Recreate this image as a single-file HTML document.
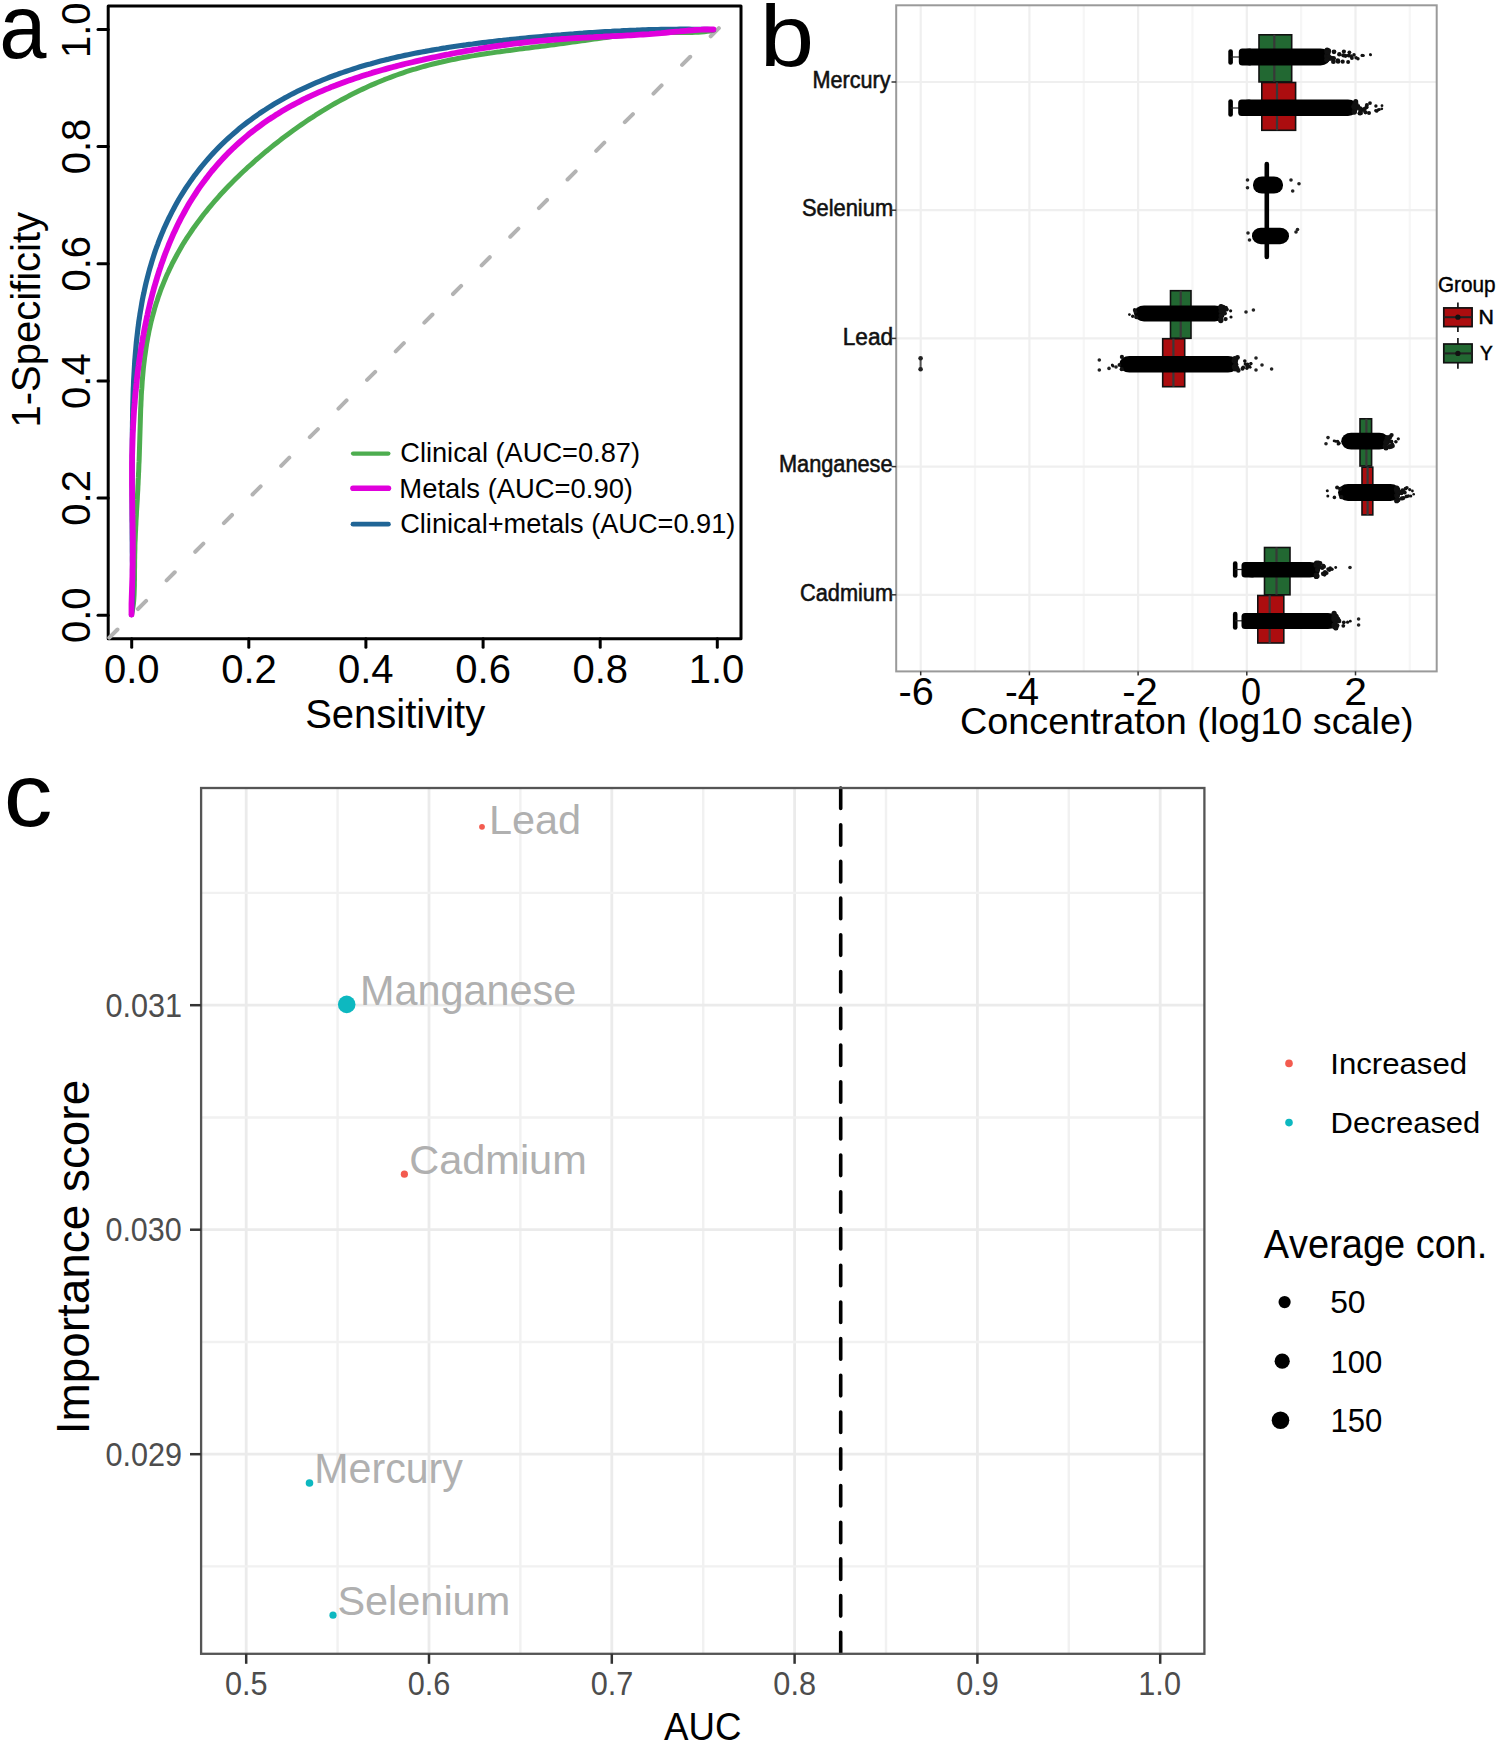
<!DOCTYPE html>
<html><head><meta charset="utf-8"><style>
html,body{margin:0;padding:0;background:#fff;}
svg{display:block;}
text{font-family:"Liberation Sans", sans-serif;font-kerning:none;}
</style></head><body>
<svg width="1499" height="1745" viewBox="0 0 1499 1745">
<rect width="1499" height="1745" fill="#fff"/>
<text transform="translate(-0.81 57.60) scale(0.9436 1)" font-size="89.95" fill="#000" >a</text>
<rect x="108.2" y="6" width="632.8" height="632.8" fill="none" stroke="#000" stroke-width="3" stroke-linejoin="round"/>
<line x1="131.7" y1="638.8" x2="131.7" y2="647.3" stroke="#000" stroke-width="3" stroke-linecap="round"/>
<line x1="98" y1="615.2" x2="108.2" y2="615.2" stroke="#000" stroke-width="3" stroke-linecap="round"/>
<text transform="translate(103.90 682.60) scale(1.0000 1)" font-size="40.00" fill="#000">0.0</text>
<text transform="translate(89.80 643.00) rotate(-90) scale(1.0000 1)" font-size="40.00" fill="#000">0.0</text>
<line x1="248.8" y1="638.8" x2="248.8" y2="647.3" stroke="#000" stroke-width="3" stroke-linecap="round"/>
<line x1="98" y1="498.1" x2="108.2" y2="498.1" stroke="#000" stroke-width="3" stroke-linecap="round"/>
<text transform="translate(221.24 682.60) scale(1.0000 1)" font-size="40.00" fill="#000">0.2</text>
<text transform="translate(89.80 525.64) rotate(-90) scale(1.0000 1)" font-size="40.00" fill="#000">0.2</text>
<line x1="365.9" y1="638.8" x2="365.9" y2="647.3" stroke="#000" stroke-width="3" stroke-linecap="round"/>
<line x1="98" y1="380.9" x2="108.2" y2="380.9" stroke="#000" stroke-width="3" stroke-linecap="round"/>
<text transform="translate(337.94 682.60) scale(1.0000 1)" font-size="40.00" fill="#000">0.4</text>
<text transform="translate(89.80 408.92) rotate(-90) scale(1.0000 1)" font-size="40.00" fill="#000">0.4</text>
<line x1="483.1" y1="638.8" x2="483.1" y2="647.3" stroke="#000" stroke-width="3" stroke-linecap="round"/>
<line x1="98" y1="263.8" x2="108.2" y2="263.8" stroke="#000" stroke-width="3" stroke-linecap="round"/>
<text transform="translate(455.35 682.60) scale(1.0000 1)" font-size="40.00" fill="#000">0.6</text>
<text transform="translate(89.80 291.49) rotate(-90) scale(1.0000 1)" font-size="40.00" fill="#000">0.6</text>
<line x1="600.2" y1="638.8" x2="600.2" y2="647.3" stroke="#000" stroke-width="3" stroke-linecap="round"/>
<line x1="98" y1="146.6" x2="108.2" y2="146.6" stroke="#000" stroke-width="3" stroke-linecap="round"/>
<text transform="translate(572.47 682.60) scale(1.0000 1)" font-size="40.00" fill="#000">0.8</text>
<text transform="translate(89.80 174.35) rotate(-90) scale(1.0000 1)" font-size="40.00" fill="#000">0.8</text>
<line x1="717.3" y1="638.8" x2="717.3" y2="647.3" stroke="#000" stroke-width="3" stroke-linecap="round"/>
<line x1="98" y1="29.5" x2="108.2" y2="29.5" stroke="#000" stroke-width="3" stroke-linecap="round"/>
<text transform="translate(688.76 682.60) scale(1.0000 1)" font-size="40.00" fill="#000">1.0</text>
<text transform="translate(89.80 58.04) rotate(-90) scale(1.0000 1)" font-size="40.00" fill="#000">1.0</text>
<text transform="translate(305.15 728.00) scale(1.0000 1)" font-size="40.00" fill="#000">Sensitivity</text>
<text transform="translate(39.50 427.55) rotate(-90) scale(1.0000 1)" font-size="40.00" fill="#000">1-Specificity</text>
<line x1="108.2" y1="638.8" x2="722.5" y2="24.5" stroke="#B3B3B3" stroke-width="4" stroke-dasharray="11.5 29" stroke-linecap="round" stroke-dashoffset="-1.6"/>
<path d="M713.4,30.3 L710.4,30.9 L707.3,31.3 L704.3,31.7 L701.2,32.0 L698.2,32.2 L695.1,32.3 L692.1,32.4 L689.0,32.5 L685.9,32.5 L682.9,32.5 L679.8,32.5 L676.8,32.6 L673.7,32.6 L670.6,32.6 L667.5,32.6 L664.5,32.7 L661.4,32.8 L658.3,32.8 L655.3,33.0 L652.2,33.1 L649.1,33.2 L646.0,33.4 L643.0,33.6 L639.9,33.8 L636.8,34.1 L633.8,34.3 L630.7,34.6 L627.6,34.9 L624.6,35.2 L621.5,35.6 L618.5,35.9 L615.4,36.3 L612.3,36.6 L609.3,37.0 L606.2,37.4 L603.2,37.8 L600.1,38.3 L597.0,38.7 L594.0,39.1 L590.9,39.5 L587.8,40.0 L584.8,40.4 L581.7,40.8 L578.6,41.3 L575.5,41.7 L572.5,42.1 L569.4,42.5 L566.3,43.0 L563.2,43.4 L560.1,43.8 L557.0,44.2 L553.9,44.7 L550.7,45.1 L547.6,45.5 L544.5,45.9 L541.4,46.3 L538.2,46.7 L535.1,47.1 L531.9,47.5 L528.8,47.9 L525.6,48.3 L522.4,48.7 L519.2,49.1 L516.0,49.6 L512.9,50.0 L509.7,50.4 L506.4,50.8 L503.2,51.2 L500.0,51.7 L496.8,52.1 L493.6,52.6 L490.3,53.1 L487.1,53.5 L483.9,54.0 L480.6,54.5 L477.4,55.0 L474.1,55.6 L470.9,56.1 L467.6,56.7 L464.4,57.3 L461.1,57.9 L457.9,58.5 L454.6,59.2 L451.4,59.8 L448.1,60.5 L444.9,61.2 L441.6,62.0 L438.4,62.7 L435.2,63.5 L431.9,64.3 L428.7,65.1 L425.5,66.0 L422.2,66.9 L419.0,67.8 L415.8,68.8 L412.6,69.7 L409.4,70.7 L406.2,71.7 L403.1,72.8 L399.9,73.9 L396.7,75.0 L393.6,76.1 L390.4,77.3 L387.3,78.5 L384.2,79.7 L381.1,81.0 L378.0,82.3 L374.9,83.6 L371.8,84.9 L368.7,86.3 L365.7,87.7 L362.6,89.1 L359.6,90.5 L356.6,92.0 L353.5,93.5 L350.5,95.0 L347.6,96.6 L344.6,98.2 L341.6,99.8 L338.7,101.4 L335.7,103.0 L332.8,104.7 L329.9,106.4 L327.0,108.1 L324.1,109.9 L321.2,111.6 L318.4,113.4 L315.5,115.2 L312.7,117.1 L309.8,118.9 L307.0,120.8 L304.2,122.7 L301.4,124.6 L298.7,126.5 L295.9,128.5 L293.1,130.5 L290.4,132.5 L287.7,134.5 L284.9,136.5 L282.2,138.5 L279.6,140.6 L276.9,142.7 L274.2,144.8 L271.6,146.9 L268.9,149.1 L266.3,151.2 L263.7,153.4 L261.1,155.6 L258.5,157.8 L255.9,160.0 L253.4,162.3 L250.9,164.6 L248.3,166.8 L245.8,169.2 L243.3,171.5 L240.9,173.8 L238.4,176.2 L236.0,178.6 L233.5,181.0 L231.1,183.4 L228.8,185.8 L226.4,188.3 L224.1,190.8 L221.7,193.3 L219.4,195.8 L217.2,198.3 L214.9,200.9 L212.7,203.5 L210.5,206.1 L208.3,208.7 L206.2,211.4 L204.0,214.0 L201.9,216.7 L199.9,219.4 L197.8,222.2 L195.8,224.9 L193.8,227.7 L191.9,230.5 L190.0,233.3 L188.1,236.2 L186.2,239.0 L184.4,241.9 L182.6,244.8 L180.9,247.8 L179.2,250.7 L177.5,253.7 L175.9,256.7 L174.3,259.7 L172.7,262.7 L171.2,265.8 L169.7,268.9 L168.3,272.0 L166.8,275.1 L165.5,278.2 L164.2,281.4 L162.9,284.6 L161.6,287.7 L160.4,291.0 L159.3,294.2 L158.1,297.4 L157.1,300.7 L156.0,303.9 L155.0,307.2 L154.1,310.5 L153.2,313.8 L152.3,317.2 L151.4,320.5 L150.6,323.8 L149.9,327.2 L149.1,330.6 L148.5,333.9 L147.8,337.3 L147.2,340.7 L146.6,344.1 L146.1,347.5 L145.6,350.9 L145.1,354.3 L144.6,357.7 L144.2,361.1 L143.8,364.5 L143.4,367.9 L143.1,371.3 L142.8,374.8 L142.5,378.2 L142.2,381.6 L142.0,385.0 L141.8,388.4 L141.5,391.8 L141.3,395.1 L141.2,398.5 L141.0,401.9 L140.9,405.3 L140.7,408.6 L140.6,412.0 L140.5,415.3 L140.4,418.7 L140.3,422.0 L140.2,425.3 L140.1,428.6 L140.0,431.9 L139.9,435.2 L139.8,438.5 L139.7,441.8 L139.6,445.1 L139.5,448.3 L139.4,451.5 L139.3,454.8 L139.2,458.0 L139.1,461.2 L138.9,464.4 L138.8,467.6 L138.7,470.8 L138.5,474.0 L138.4,477.2 L138.2,480.3 L138.1,483.5 L137.9,486.6 L137.8,489.8 L137.6,492.9 L137.4,496.1 L137.3,499.2 L137.1,502.3 L136.9,505.4 L136.7,508.5 L136.5,511.6 L136.4,514.7 L136.2,517.8 L136.0,520.9 L135.9,524.0 L135.7,527.1 L135.6,530.2 L135.4,533.3 L135.3,536.4 L135.2,539.5 L135.0,542.6 L134.9,545.7 L134.9,548.7 L134.8,551.8 L134.7,554.9 L134.7,558.0 L134.6,561.0 L134.6,564.1 L134.6,567.2 L134.5,570.3 L134.5,573.3 L134.5,576.4 L134.5,579.5 L134.4,582.5 L134.4,585.6 L134.3,588.6 L134.2,591.7 L134.1,594.7 L133.9,597.8 L133.7,600.8 L133.4,603.9 L133.0,606.9 L132.5,610.0 L131.8,613.1 L131.5,614.6" fill="none" stroke="#4DAD4F" stroke-width="5.0" stroke-linejoin="round" stroke-linecap="round"/>
<path d="M713.4,29.5 L710.4,29.5 L707.3,29.4 L704.2,29.4 L701.1,29.3 L698.1,29.3 L695.0,29.3 L691.9,29.3 L688.8,29.2 L685.8,29.2 L682.7,29.2 L679.6,29.2 L676.5,29.3 L673.4,29.3 L670.4,29.3 L667.3,29.3 L664.2,29.4 L661.1,29.4 L658.0,29.5 L654.9,29.6 L651.8,29.7 L648.7,29.7 L645.6,29.8 L642.5,29.9 L639.4,30.0 L636.3,30.2 L633.2,30.3 L630.1,30.4 L627.0,30.6 L623.9,30.7 L620.7,30.9 L617.6,31.0 L614.5,31.2 L611.4,31.4 L608.3,31.5 L605.1,31.7 L602.0,31.9 L598.8,32.1 L595.7,32.3 L592.6,32.5 L589.4,32.7 L586.3,32.9 L583.1,33.2 L579.9,33.4 L576.8,33.6 L573.6,33.9 L570.4,34.1 L567.3,34.3 L564.1,34.6 L560.9,34.9 L557.7,35.1 L554.5,35.4 L551.3,35.7 L548.1,35.9 L544.9,36.2 L541.7,36.5 L538.4,36.8 L535.2,37.1 L532.0,37.4 L528.7,37.7 L525.5,38.0 L522.2,38.3 L519.0,38.7 L515.7,39.0 L512.4,39.3 L509.1,39.7 L505.9,40.0 L502.6,40.4 L499.3,40.7 L496.0,41.1 L492.6,41.5 L489.3,41.9 L486.0,42.3 L482.7,42.7 L479.3,43.1 L476.0,43.5 L472.7,44.0 L469.3,44.4 L465.9,44.9 L462.6,45.3 L459.2,45.8 L455.8,46.3 L452.4,46.8 L449.1,47.3 L445.7,47.9 L442.3,48.4 L438.9,49.0 L435.5,49.5 L432.1,50.1 L428.6,50.7 L425.2,51.4 L421.8,52.0 L418.4,52.6 L414.9,53.3 L411.5,54.0 L408.1,54.7 L404.7,55.4 L401.2,56.2 L397.8,56.9 L394.3,57.7 L390.9,58.5 L387.5,59.4 L384.0,60.2 L380.6,61.1 L377.2,62.0 L373.7,62.9 L370.3,63.9 L366.9,64.8 L363.5,65.8 L360.0,66.8 L356.6,67.9 L353.2,69.0 L349.8,70.1 L346.4,71.2 L343.0,72.4 L339.6,73.5 L336.3,74.8 L332.9,76.0 L329.5,77.3 L326.2,78.6 L322.9,79.9 L319.5,81.3 L316.2,82.7 L312.9,84.1 L309.6,85.6 L306.4,87.1 L303.1,88.6 L299.9,90.1 L296.6,91.7 L293.4,93.4 L290.2,95.0 L287.1,96.7 L283.9,98.4 L280.8,100.2 L277.7,102.0 L274.6,103.8 L271.5,105.7 L268.4,107.6 L265.4,109.6 L262.4,111.5 L259.4,113.5 L256.5,115.6 L253.6,117.7 L250.7,119.8 L247.8,121.9 L244.9,124.1 L242.1,126.3 L239.3,128.6 L236.6,130.9 L233.9,133.2 L231.2,135.6 L228.5,138.0 L225.9,140.4 L223.3,142.9 L220.7,145.4 L218.2,147.9 L215.7,150.5 L213.2,153.1 L210.8,155.7 L208.4,158.4 L206.1,161.1 L203.8,163.9 L201.5,166.6 L199.3,169.4 L197.1,172.3 L194.9,175.1 L192.8,178.0 L190.7,180.9 L188.7,183.9 L186.7,186.8 L184.7,189.8 L182.8,192.9 L180.9,195.9 L179.0,199.0 L177.3,202.1 L175.5,205.3 L173.8,208.4 L172.1,211.6 L170.5,214.8 L168.9,218.0 L167.3,221.3 L165.8,224.6 L164.3,227.8 L162.9,231.2 L161.5,234.5 L160.2,237.8 L158.8,241.2 L157.6,244.6 L156.3,248.0 L155.1,251.4 L154.0,254.8 L152.9,258.2 L151.8,261.7 L150.8,265.2 L149.8,268.6 L148.8,272.1 L147.9,275.6 L147.0,279.1 L146.1,282.6 L145.3,286.1 L144.5,289.7 L143.8,293.2 L143.0,296.7 L142.3,300.3 L141.7,303.8 L141.1,307.4 L140.5,310.9 L139.9,314.5 L139.4,318.0 L138.8,321.6 L138.4,325.2 L137.9,328.7 L137.5,332.3 L137.1,335.8 L136.7,339.4 L136.3,342.9 L136.0,346.5 L135.7,350.0 L135.4,353.5 L135.1,357.1 L134.8,360.6 L134.6,364.1 L134.4,367.6 L134.2,371.1 L134.0,374.6 L133.8,378.1 L133.6,381.6 L133.5,385.1 L133.3,388.6 L133.2,392.0 L133.1,395.5 L133.0,398.9 L132.9,402.4 L132.8,405.8 L132.7,409.2 L132.7,412.6 L132.6,416.0 L132.6,419.4 L132.5,422.8 L132.5,426.2 L132.4,429.6 L132.4,432.9 L132.4,436.3 L132.3,439.6 L132.3,442.9 L132.3,446.2 L132.3,449.5 L132.3,452.8 L132.2,456.1 L132.2,459.4 L132.2,462.7 L132.2,465.9 L132.2,469.2 L132.2,472.5 L132.2,475.7 L132.2,478.9 L132.1,482.1 L132.1,485.4 L132.1,488.6 L132.1,491.8 L132.1,495.0 L132.1,498.2 L132.1,501.3 L132.1,504.5 L132.1,507.7 L132.1,510.9 L132.1,514.0 L132.1,517.2 L132.1,520.3 L132.2,523.5 L132.2,526.6 L132.2,529.7 L132.2,532.9 L132.2,536.0 L132.2,539.1 L132.3,542.2 L132.3,545.3 L132.3,548.4 L132.3,551.6 L132.4,554.7 L132.4,557.7 L132.4,560.8 L132.5,563.9 L132.5,567.0 L132.5,570.1 L132.5,573.2 L132.6,576.3 L132.6,579.3 L132.6,582.4 L132.6,585.5 L132.5,588.5 L132.5,591.6 L132.5,594.7 L132.4,597.7 L132.3,600.8 L132.2,603.9 L132.0,606.9 L131.8,610.0 L131.6,613.1 L131.5,614.6" fill="none" stroke="#206596" stroke-width="5.2" stroke-linejoin="round" stroke-linecap="round"/>
<path d="M713.4,29.5 L710.4,29.4 L707.3,29.5 L704.2,29.5 L701.2,29.7 L698.1,29.8 L695.0,30.0 L692.0,30.3 L688.9,30.5 L685.9,30.8 L682.8,31.1 L679.7,31.4 L676.7,31.6 L673.6,31.9 L670.6,32.2 L667.5,32.5 L664.5,32.8 L661.4,33.1 L658.4,33.3 L655.3,33.6 L652.3,33.8 L649.2,34.1 L646.2,34.3 L643.1,34.5 L640.0,34.7 L637.0,34.9 L633.9,35.1 L630.8,35.3 L627.7,35.4 L624.6,35.6 L621.6,35.8 L618.5,35.9 L615.4,36.1 L612.3,36.2 L609.2,36.4 L606.0,36.5 L602.9,36.7 L599.8,36.8 L596.7,37.0 L593.5,37.2 L590.4,37.3 L587.3,37.5 L584.1,37.6 L581.0,37.8 L577.8,38.0 L574.7,38.2 L571.5,38.4 L568.3,38.6 L565.2,38.8 L562.0,39.0 L558.8,39.3 L555.6,39.5 L552.5,39.8 L549.3,40.0 L546.1,40.3 L542.9,40.6 L539.7,40.9 L536.5,41.2 L533.3,41.5 L530.1,41.9 L526.9,42.2 L523.6,42.6 L520.4,43.0 L517.2,43.3 L514.0,43.7 L510.8,44.2 L507.5,44.6 L504.3,45.0 L501.1,45.5 L497.8,45.9 L494.6,46.4 L491.3,46.9 L488.1,47.4 L484.8,47.9 L481.5,48.4 L478.3,49.0 L475.0,49.5 L471.7,50.1 L468.5,50.6 L465.2,51.2 L461.9,51.8 L458.6,52.4 L455.3,53.0 L452.0,53.6 L448.7,54.3 L445.4,54.9 L442.1,55.6 L438.8,56.3 L435.5,57.0 L432.2,57.7 L428.9,58.4 L425.5,59.1 L422.2,59.9 L418.9,60.6 L415.5,61.4 L412.2,62.2 L408.9,63.0 L405.5,63.8 L402.2,64.6 L398.8,65.5 L395.5,66.4 L392.1,67.2 L388.8,68.1 L385.4,69.1 L382.1,70.0 L378.7,71.0 L375.4,71.9 L372.0,72.9 L368.7,74.0 L365.3,75.0 L362.0,76.1 L358.7,77.2 L355.3,78.3 L352.0,79.4 L348.7,80.6 L345.4,81.7 L342.0,83.0 L338.7,84.2 L335.4,85.5 L332.1,86.7 L328.9,88.1 L325.6,89.4 L322.3,90.8 L319.1,92.2 L315.9,93.6 L312.6,95.1 L309.4,96.6 L306.2,98.2 L303.0,99.7 L299.9,101.3 L296.7,103.0 L293.6,104.6 L290.5,106.3 L287.4,108.1 L284.4,109.8 L281.3,111.6 L278.3,113.5 L275.3,115.3 L272.3,117.3 L269.3,119.2 L266.4,121.2 L263.5,123.2 L260.6,125.3 L257.8,127.4 L255.0,129.5 L252.2,131.6 L249.4,133.8 L246.7,136.1 L244.0,138.4 L241.3,140.7 L238.7,143.0 L236.1,145.4 L233.5,147.8 L231.0,150.3 L228.5,152.7 L226.0,155.2 L223.6,157.8 L221.2,160.4 L218.8,163.0 L216.5,165.6 L214.2,168.3 L211.9,171.0 L209.7,173.8 L207.6,176.6 L205.4,179.4 L203.3,182.2 L201.2,185.1 L199.2,187.9 L197.2,190.9 L195.3,193.8 L193.4,196.8 L191.5,199.8 L189.6,202.8 L187.8,205.8 L186.1,208.9 L184.4,212.0 L182.7,215.1 L181.0,218.2 L179.4,221.4 L177.8,224.5 L176.3,227.7 L174.8,230.9 L173.3,234.1 L171.9,237.4 L170.5,240.6 L169.1,243.9 L167.8,247.2 L166.5,250.5 L165.2,253.8 L164.0,257.1 L162.8,260.4 L161.6,263.7 L160.5,267.1 L159.3,270.5 L158.3,273.8 L157.2,277.2 L156.2,280.6 L155.2,284.0 L154.2,287.3 L153.3,290.7 L152.4,294.1 L151.5,297.6 L150.6,301.0 L149.8,304.4 L149.0,307.8 L148.2,311.2 L147.5,314.6 L146.7,318.0 L146.0,321.5 L145.3,324.9 L144.6,328.3 L144.0,331.7 L143.4,335.1 L142.7,338.6 L142.2,342.0 L141.6,345.4 L141.0,348.8 L140.5,352.2 L140.0,355.6 L139.5,359.0 L139.0,362.4 L138.6,365.8 L138.1,369.2 L137.7,372.6 L137.3,376.0 L136.9,379.4 L136.6,382.8 L136.2,386.2 L135.9,389.6 L135.5,392.9 L135.2,396.3 L134.9,399.7 L134.7,403.0 L134.4,406.4 L134.1,409.7 L133.9,413.1 L133.7,416.4 L133.5,419.7 L133.3,423.1 L133.1,426.4 L133.0,429.7 L132.8,433.0 L132.7,436.4 L132.6,439.7 L132.5,443.0 L132.4,446.3 L132.3,449.5 L132.2,452.8 L132.1,456.1 L132.1,459.4 L132.0,462.6 L132.0,465.9 L132.0,469.2 L132.0,472.4 L132.0,475.6 L132.0,478.9 L132.0,482.1 L132.0,485.3 L132.1,488.6 L132.1,491.8 L132.1,495.0 L132.2,498.2 L132.2,501.4 L132.3,504.6 L132.3,507.7 L132.4,510.9 L132.4,514.1 L132.5,517.2 L132.5,520.4 L132.6,523.5 L132.6,526.7 L132.7,529.8 L132.7,532.9 L132.8,536.1 L132.8,539.2 L132.8,542.3 L132.8,545.4 L132.8,548.5 L132.8,551.6 L132.8,554.7 L132.7,557.8 L132.7,560.9 L132.7,563.9 L132.6,567.0 L132.5,570.1 L132.5,573.2 L132.4,576.3 L132.3,579.3 L132.2,582.4 L132.1,585.5 L132.0,588.5 L131.9,591.6 L131.8,594.7 L131.7,597.7 L131.6,600.8 L131.5,603.9 L131.5,606.9 L131.5,610.0 L131.5,613.1 L131.5,614.6" fill="none" stroke="#E000DC" stroke-width="5.8" stroke-linejoin="round" stroke-linecap="round"/>
<line x1="353" y1="453.6" x2="388.4" y2="453.6" stroke="#4DAD4F" stroke-width="4.2" stroke-linecap="round"/>
<text transform="translate(400.22 462.00) scale(0.9902 1)" font-size="27.50" fill="#000" >Clinical (AUC=0.87)</text>
<line x1="353" y1="488.2" x2="388.4" y2="488.2" stroke="#E000DC" stroke-width="5.6" stroke-linecap="round"/>
<text transform="translate(399.35 497.50) scale(0.9964 1)" font-size="27.50" fill="#000" >Metals (AUC=0.90)</text>
<line x1="353" y1="524.2" x2="388.4" y2="524.2" stroke="#206596" stroke-width="4.8" stroke-linecap="round"/>
<text transform="translate(400.22 533.40) scale(0.9878 1)" font-size="27.50" fill="#000" >Clinical+metals (AUC=0.91)</text>
<text transform="translate(759.69 65.80) scale(1.1236 1)" font-size="87.08" fill="#000" >b</text>
<line x1="920.7" y1="5.3" x2="920.7" y2="671.4" stroke="#EFEFEF" stroke-width="2.2"/>
<line x1="975.0" y1="5.3" x2="975.0" y2="671.4" stroke="#F6F6F6" stroke-width="2.2"/>
<line x1="1029.4" y1="5.3" x2="1029.4" y2="671.4" stroke="#EFEFEF" stroke-width="2.2"/>
<line x1="1083.8" y1="5.3" x2="1083.8" y2="671.4" stroke="#F6F6F6" stroke-width="2.2"/>
<line x1="1138.1" y1="5.3" x2="1138.1" y2="671.4" stroke="#EFEFEF" stroke-width="2.2"/>
<line x1="1192.5" y1="5.3" x2="1192.5" y2="671.4" stroke="#F6F6F6" stroke-width="2.2"/>
<line x1="1246.8" y1="5.3" x2="1246.8" y2="671.4" stroke="#EFEFEF" stroke-width="2.2"/>
<line x1="1301.1" y1="5.3" x2="1301.1" y2="671.4" stroke="#F6F6F6" stroke-width="2.2"/>
<line x1="1355.5" y1="5.3" x2="1355.5" y2="671.4" stroke="#EFEFEF" stroke-width="2.2"/>
<line x1="1409.8" y1="5.3" x2="1409.8" y2="671.4" stroke="#F6F6F6" stroke-width="2.2"/>
<line x1="896.2" y1="82.0" x2="1436.7" y2="82.0" stroke="#EFEFEF" stroke-width="2.2"/>
<line x1="896.2" y1="210.2" x2="1436.7" y2="210.2" stroke="#EFEFEF" stroke-width="2.2"/>
<line x1="896.2" y1="338.4" x2="1436.7" y2="338.4" stroke="#EFEFEF" stroke-width="2.2"/>
<line x1="896.2" y1="466.6" x2="1436.7" y2="466.6" stroke="#EFEFEF" stroke-width="2.2"/>
<line x1="896.2" y1="594.8" x2="1436.7" y2="594.8" stroke="#EFEFEF" stroke-width="2.2"/>
<rect x="896.2" y="5.3" width="540.5" height="666.1" fill="none" stroke="#9A9A9A" stroke-width="2"/>
<text transform="translate(812.53 88.20) scale(0.9405 1)" font-size="23.00" fill="#111" stroke="#111" stroke-width="0.55">Mercury</text>
<text transform="translate(801.91 216.10) scale(0.9515 1)" font-size="23.00" fill="#111" stroke="#111" stroke-width="0.55">Selenium</text>
<text transform="translate(842.74 344.60) scale(0.9854 1)" font-size="23.00" fill="#111" stroke="#111" stroke-width="0.55">Lead</text>
<text transform="translate(778.91 472.00) scale(0.9464 1)" font-size="23.00" fill="#111" stroke="#111" stroke-width="0.55">Manganese</text>
<text transform="translate(799.99 601.30) scale(0.9464 1)" font-size="23.00" fill="#111" stroke="#111" stroke-width="0.55">Cadmium</text>
<line x1="891.5" y1="82.0" x2="896.2" y2="82.0" stroke="#333" stroke-width="1.5"/>
<line x1="891.5" y1="210.2" x2="896.2" y2="210.2" stroke="#333" stroke-width="1.5"/>
<line x1="891.5" y1="338.4" x2="896.2" y2="338.4" stroke="#333" stroke-width="1.5"/>
<line x1="891.5" y1="466.6" x2="896.2" y2="466.6" stroke="#333" stroke-width="1.5"/>
<line x1="891.5" y1="594.8" x2="896.2" y2="594.8" stroke="#333" stroke-width="1.5"/>
<line x1="920.7" y1="671.4" x2="920.7" y2="675.4" stroke="#333" stroke-width="1.5"/>
<line x1="1029.4" y1="671.4" x2="1029.4" y2="675.4" stroke="#333" stroke-width="1.5"/>
<line x1="1138.1" y1="671.4" x2="1138.1" y2="675.4" stroke="#333" stroke-width="1.5"/>
<line x1="1246.8" y1="671.4" x2="1246.8" y2="675.4" stroke="#333" stroke-width="1.5"/>
<line x1="1355.5" y1="671.4" x2="1355.5" y2="675.4" stroke="#333" stroke-width="1.5"/>
<text transform="translate(898.44 705.40) scale(1.0385 1)" font-size="38.24" fill="#000" >-6</text>
<text transform="translate(1005.10 705.40) scale(0.9859 1)" font-size="38.81" fill="#000" >-4</text>
<text transform="translate(1122.22 705.40) scale(1.0501 1)" font-size="38.24" fill="#000" >-2</text>
<text transform="translate(1240.99 705.40) scale(0.9464 1)" font-size="38.24" fill="#000" >0</text>
<text transform="translate(1344.15 705.40) scale(1.0677 1)" font-size="38.24" fill="#000" >2</text>
<text transform="translate(960.08 734.30) scale(1.0076 1)" font-size="37.50" fill="#000" >Concentraton (log10 scale)</text>
<rect x="1259.0" y="34.8" width="32.7" height="47.1" fill="#226832" stroke="#111" stroke-width="1.6"/>
<line x1="1274.3" y1="34.8" x2="1274.3" y2="81.9" stroke="#383838" stroke-width="2.2"/>
<line x1="1230.6" y1="51.5" x2="1230.6" y2="62.5" stroke="#000" stroke-width="4.6" stroke-linecap="round"/>
<line x1="1230.6" y1="57.0" x2="1240.6" y2="57.0" stroke="#222" stroke-width="1.2"/>
<rect x="1239.8" y="48.6" width="90.7" height="16.8" rx="10" ry="8.4" fill="#000"/>
<rect x="1238.8" y="48.6" width="14" height="16.8" rx="3.5" ry="3.5" fill="#000"/>
<circle cx="1334.0" cy="51.8" r="2.4" fill="#111"/>
<circle cx="1349.4" cy="52.3" r="1.9" fill="#111"/>
<circle cx="1343.3" cy="55.3" r="2.1" fill="#111"/>
<circle cx="1327.0" cy="57.1" r="2.6" fill="#111"/>
<circle cx="1326.7" cy="55.9" r="2.6" fill="#111"/>
<circle cx="1327.1" cy="50.2" r="2.6" fill="#111"/>
<circle cx="1338.1" cy="61.5" r="2.3" fill="#111"/>
<circle cx="1328.1" cy="52.5" r="2.6" fill="#111"/>
<circle cx="1348.1" cy="62.0" r="2.0" fill="#111"/>
<circle cx="1345.4" cy="55.8" r="2.1" fill="#111"/>
<circle cx="1370.3" cy="54.5" r="1.3" fill="#111"/>
<circle cx="1362.1" cy="55.4" r="1.6" fill="#111"/>
<circle cx="1328.6" cy="50.8" r="2.5" fill="#111"/>
<circle cx="1333.4" cy="61.7" r="2.4" fill="#111"/>
<circle cx="1329.4" cy="58.3" r="2.5" fill="#111"/>
<circle cx="1348.7" cy="55.6" r="2.0" fill="#111"/>
<circle cx="1343.9" cy="51.6" r="2.1" fill="#111"/>
<circle cx="1327.0" cy="52.1" r="2.6" fill="#111"/>
<circle cx="1351.1" cy="56.2" r="1.9" fill="#111"/>
<circle cx="1333.6" cy="58.3" r="2.4" fill="#111"/>
<circle cx="1339.3" cy="54.3" r="2.2" fill="#111"/>
<circle cx="1358.0" cy="58.7" r="1.7" fill="#111"/>
<circle cx="1331.3" cy="58.2" r="2.5" fill="#111"/>
<circle cx="1342.7" cy="61.7" r="2.1" fill="#111"/>
<circle cx="1354.0" cy="54.9" r="1.8" fill="#111"/>
<circle cx="1370.6" cy="54.9" r="1.3" fill="#111"/>
<circle cx="1337.8" cy="60.6" r="2.3" fill="#111"/>
<circle cx="1328.7" cy="56.8" r="2.5" fill="#111"/>
<circle cx="1326.8" cy="59.8" r="2.6" fill="#111"/>
<circle cx="1356.1" cy="57.7" r="1.8" fill="#111"/>
<circle cx="1363.3" cy="55.6" r="1.5" fill="#111"/>
<circle cx="1351.9" cy="58.0" r="1.9" fill="#111"/>
<rect x="1261.8" y="82.5" width="33.8" height="47.8" fill="#AC0D0F" stroke="#111" stroke-width="1.6"/>
<line x1="1277.0" y1="82.5" x2="1277.0" y2="130.3" stroke="#383838" stroke-width="2.2"/>
<line x1="1230.6" y1="101.5" x2="1230.6" y2="114.5" stroke="#000" stroke-width="4.6" stroke-linecap="round"/>
<line x1="1230.6" y1="108.0" x2="1240.6" y2="108.0" stroke="#222" stroke-width="1.2"/>
<rect x="1239.2" y="99.5" width="118.8" height="16.5" rx="10" ry="8.2" fill="#000"/>
<rect x="1238.2" y="99.5" width="14" height="16.5" rx="3.5" ry="3.5" fill="#000"/>
<circle cx="1366.5" cy="107.2" r="2.1" fill="#111"/>
<circle cx="1376.7" cy="111.2" r="1.6" fill="#111"/>
<circle cx="1363.1" cy="109.8" r="2.2" fill="#111"/>
<circle cx="1354.3" cy="111.0" r="2.6" fill="#111"/>
<circle cx="1369.0" cy="113.0" r="2.0" fill="#111"/>
<circle cx="1375.9" cy="106.0" r="1.7" fill="#111"/>
<circle cx="1360.5" cy="110.1" r="2.3" fill="#111"/>
<circle cx="1354.1" cy="107.1" r="2.6" fill="#111"/>
<circle cx="1355.7" cy="101.6" r="2.5" fill="#111"/>
<circle cx="1354.3" cy="112.1" r="2.6" fill="#111"/>
<circle cx="1355.1" cy="103.6" r="2.6" fill="#111"/>
<circle cx="1360.7" cy="112.9" r="2.3" fill="#111"/>
<circle cx="1354.5" cy="106.9" r="2.6" fill="#111"/>
<circle cx="1365.5" cy="112.3" r="2.1" fill="#111"/>
<circle cx="1375.8" cy="110.6" r="1.7" fill="#111"/>
<circle cx="1357.9" cy="106.4" r="2.4" fill="#111"/>
<circle cx="1359.8" cy="113.2" r="2.3" fill="#111"/>
<circle cx="1382.0" cy="105.7" r="1.4" fill="#111"/>
<circle cx="1355.9" cy="103.5" r="2.5" fill="#111"/>
<circle cx="1356.9" cy="107.5" r="2.5" fill="#111"/>
<circle cx="1366.9" cy="105.0" r="2.0" fill="#111"/>
<circle cx="1354.0" cy="106.4" r="2.6" fill="#111"/>
<circle cx="1360.1" cy="108.6" r="2.3" fill="#111"/>
<circle cx="1381.8" cy="108.8" r="1.4" fill="#111"/>
<circle cx="1364.4" cy="109.2" r="2.1" fill="#111"/>
<circle cx="1370.0" cy="103.1" r="1.9" fill="#111"/>
<circle cx="1379.3" cy="109.6" r="1.5" fill="#111"/>
<circle cx="1378.2" cy="109.8" r="1.6" fill="#111"/>
<line x1="1266.8" y1="164" x2="1266.8" y2="257" stroke="#000" stroke-width="4.6" stroke-linecap="round"/>
<rect x="1253" y="176.5" width="30" height="17" rx="9" ry="8" fill="#000"/>
<circle cx="1247.5" cy="180.0" r="1.8" fill="#222"/>
<circle cx="1247.5" cy="187.7" r="1.8" fill="#222"/>
<circle cx="1291.0" cy="180.0" r="1.8" fill="#222"/>
<circle cx="1299.0" cy="183.7" r="1.8" fill="#222"/>
<circle cx="1292.7" cy="191.0" r="1.8" fill="#222"/>
<rect x="1252" y="227.7" width="37" height="16.5" rx="9" ry="8" fill="#000"/>
<circle cx="1248.0" cy="233.0" r="1.8" fill="#222"/>
<circle cx="1249.5" cy="240.0" r="1.8" fill="#222"/>
<circle cx="1296.0" cy="232.0" r="1.8" fill="#222"/>
<circle cx="1297.5" cy="229.5" r="1.8" fill="#222"/>
<rect x="1170.5" y="290.7" width="20.5" height="47.6" fill="#226832" stroke="#111" stroke-width="1.6"/>
<line x1="1180.7" y1="290.7" x2="1180.7" y2="338.3" stroke="#383838" stroke-width="2.2"/>
<rect x="1134.0" y="305.4" width="90.8" height="16" rx="10" ry="8.0" fill="#000"/>
<circle cx="1223.8" cy="312.0" r="2.3" fill="#111"/>
<circle cx="1221.2" cy="315.5" r="2.6" fill="#111"/>
<circle cx="1221.0" cy="306.5" r="2.6" fill="#111"/>
<circle cx="1221.9" cy="308.3" r="2.5" fill="#111"/>
<circle cx="1223.1" cy="307.1" r="2.4" fill="#111"/>
<circle cx="1220.8" cy="307.8" r="2.6" fill="#111"/>
<circle cx="1221.1" cy="311.3" r="2.6" fill="#111"/>
<circle cx="1220.8" cy="319.4" r="2.6" fill="#111"/>
<circle cx="1226.8" cy="309.6" r="2.0" fill="#111"/>
<circle cx="1222.3" cy="311.1" r="2.5" fill="#111"/>
<circle cx="1223.4" cy="308.2" r="2.3" fill="#111"/>
<circle cx="1231.0" cy="317.0" r="1.6" fill="#111"/>
<circle cx="1224.7" cy="313.2" r="2.2" fill="#111"/>
<circle cx="1221.1" cy="307.1" r="2.6" fill="#111"/>
<circle cx="1223.2" cy="310.1" r="2.4" fill="#111"/>
<circle cx="1230.6" cy="310.8" r="1.6" fill="#111"/>
<circle cx="1220.8" cy="320.6" r="2.6" fill="#111"/>
<circle cx="1225.6" cy="309.2" r="2.1" fill="#111"/>
<circle cx="1225.8" cy="307.8" r="2.1" fill="#111"/>
<circle cx="1225.6" cy="319.1" r="2.1" fill="#111"/>
<circle cx="1129.4" cy="314.6" r="1.4" fill="#111"/>
<circle cx="1135.4" cy="311.7" r="2.0" fill="#111"/>
<circle cx="1136.3" cy="317.2" r="2.0" fill="#111"/>
<circle cx="1132.7" cy="316.2" r="1.7" fill="#111"/>
<circle cx="1134.7" cy="310.0" r="1.9" fill="#111"/>
<circle cx="1246.0" cy="312.0" r="1.8" fill="#222"/>
<circle cx="1253.4" cy="310.0" r="1.8" fill="#222"/>
<rect x="1162.7" y="338.7" width="22.0" height="48.0" fill="#AC0D0F" stroke="#111" stroke-width="1.6"/>
<line x1="1173.4" y1="338.7" x2="1173.4" y2="386.7" stroke="#383838" stroke-width="2.2"/>
<rect x="1119.4" y="355.9" width="118.7" height="16.7" rx="10" ry="8.3" fill="#000"/>
<circle cx="1246.9" cy="368.3" r="1.7" fill="#111"/>
<circle cx="1248.0" cy="366.6" r="1.6" fill="#111"/>
<circle cx="1247.1" cy="366.3" r="1.7" fill="#111"/>
<circle cx="1235.8" cy="364.6" r="2.5" fill="#111"/>
<circle cx="1237.5" cy="357.5" r="2.4" fill="#111"/>
<circle cx="1234.2" cy="360.6" r="2.6" fill="#111"/>
<circle cx="1236.2" cy="367.3" r="2.5" fill="#111"/>
<circle cx="1250.8" cy="364.0" r="1.4" fill="#111"/>
<circle cx="1250.2" cy="367.3" r="1.4" fill="#111"/>
<circle cx="1250.7" cy="363.5" r="1.4" fill="#111"/>
<circle cx="1235.7" cy="360.0" r="2.5" fill="#111"/>
<circle cx="1235.4" cy="359.6" r="2.5" fill="#111"/>
<circle cx="1242.5" cy="368.8" r="2.0" fill="#111"/>
<circle cx="1247.7" cy="364.1" r="1.6" fill="#111"/>
<circle cx="1243.2" cy="367.5" r="1.9" fill="#111"/>
<circle cx="1234.4" cy="366.9" r="2.6" fill="#111"/>
<circle cx="1249.5" cy="366.2" r="1.5" fill="#111"/>
<circle cx="1245.4" cy="364.1" r="1.8" fill="#111"/>
<circle cx="1235.2" cy="368.9" r="2.5" fill="#111"/>
<circle cx="1237.2" cy="368.7" r="2.4" fill="#111"/>
<circle cx="1251.2" cy="363.7" r="1.4" fill="#111"/>
<circle cx="1238.3" cy="370.5" r="2.3" fill="#111"/>
<circle cx="1244.8" cy="361.1" r="1.8" fill="#111"/>
<circle cx="1234.8" cy="358.6" r="2.6" fill="#111"/>
<circle cx="1113.1" cy="366.2" r="1.4" fill="#111"/>
<circle cx="1121.7" cy="369.2" r="2.1" fill="#111"/>
<circle cx="1112.2" cy="365.1" r="1.3" fill="#111"/>
<circle cx="1119.4" cy="364.9" r="1.9" fill="#111"/>
<circle cx="1121.9" cy="356.9" r="2.1" fill="#111"/>
<circle cx="1112.3" cy="365.1" r="1.3" fill="#111"/>
<circle cx="1099.3" cy="360.0" r="1.8" fill="#222"/>
<circle cx="1099.3" cy="370.0" r="1.8" fill="#222"/>
<circle cx="1109.0" cy="368.4" r="1.8" fill="#222"/>
<circle cx="1116.0" cy="367.0" r="1.8" fill="#222"/>
<circle cx="1256.0" cy="358.0" r="1.8" fill="#222"/>
<circle cx="1262.0" cy="365.0" r="1.8" fill="#222"/>
<circle cx="1256.0" cy="370.0" r="1.8" fill="#222"/>
<circle cx="1271.6" cy="369.0" r="1.8" fill="#222"/>
<line x1="920.6" y1="358.5" x2="920.6" y2="369.5" stroke="#555" stroke-width="2"/>
<circle cx="920.6" cy="358.3" r="2.3" fill="#222"/>
<circle cx="920.6" cy="369.3" r="2.3" fill="#222"/>
<rect x="1360.0" y="418.8" width="11.6" height="47.2" fill="#226832" stroke="#111" stroke-width="1.6"/>
<line x1="1366.4" y1="418.8" x2="1366.4" y2="466.0" stroke="#383838" stroke-width="2.2"/>
<rect x="1341.2" y="432.8" width="48.1" height="16.8" rx="10" ry="8.4" fill="#000"/>
<circle cx="1391.6" cy="446.7" r="2.1" fill="#111"/>
<circle cx="1390.0" cy="446.3" r="2.3" fill="#111"/>
<circle cx="1398.3" cy="438.8" r="1.6" fill="#111"/>
<circle cx="1387.2" cy="438.0" r="2.5" fill="#111"/>
<circle cx="1387.1" cy="442.5" r="2.5" fill="#111"/>
<circle cx="1387.3" cy="439.9" r="2.4" fill="#111"/>
<circle cx="1386.0" cy="447.9" r="2.5" fill="#111"/>
<circle cx="1388.7" cy="440.6" r="2.4" fill="#111"/>
<circle cx="1392.8" cy="446.0" r="2.1" fill="#111"/>
<circle cx="1389.7" cy="447.0" r="2.3" fill="#111"/>
<circle cx="1391.2" cy="441.6" r="2.2" fill="#111"/>
<circle cx="1391.6" cy="435.1" r="2.1" fill="#111"/>
<circle cx="1390.1" cy="436.9" r="2.3" fill="#111"/>
<circle cx="1385.3" cy="446.2" r="2.6" fill="#111"/>
<circle cx="1386.4" cy="440.8" r="2.5" fill="#111"/>
<circle cx="1395.9" cy="441.8" r="1.8" fill="#111"/>
<circle cx="1388.2" cy="441.5" r="2.4" fill="#111"/>
<circle cx="1392.2" cy="444.7" r="2.1" fill="#111"/>
<circle cx="1385.8" cy="442.2" r="2.6" fill="#111"/>
<circle cx="1387.2" cy="437.7" r="2.5" fill="#111"/>
<circle cx="1335.8" cy="441.3" r="1.5" fill="#111"/>
<circle cx="1338.3" cy="443.9" r="1.7" fill="#111"/>
<circle cx="1334.1" cy="440.9" r="1.4" fill="#111"/>
<circle cx="1337.7" cy="441.3" r="1.6" fill="#111"/>
<circle cx="1339.0" cy="443.3" r="1.7" fill="#111"/>
<circle cx="1328.0" cy="437.6" r="1.8" fill="#222"/>
<circle cx="1326.0" cy="443.8" r="1.8" fill="#222"/>
<rect x="1362.0" y="467.2" width="10.8" height="47.7" fill="#AC0D0F" stroke="#111" stroke-width="1.6"/>
<line x1="1367.6" y1="467.2" x2="1367.6" y2="514.9" stroke="#383838" stroke-width="2.2"/>
<rect x="1338.0" y="484.0" width="62.5" height="17" rx="10" ry="8.5" fill="#000"/>
<circle cx="1401.4" cy="493.0" r="2.2" fill="#111"/>
<circle cx="1401.9" cy="498.4" r="2.2" fill="#111"/>
<circle cx="1406.4" cy="496.4" r="1.9" fill="#111"/>
<circle cx="1412.4" cy="491.0" r="1.4" fill="#111"/>
<circle cx="1403.4" cy="498.0" r="2.1" fill="#111"/>
<circle cx="1409.7" cy="489.6" r="1.6" fill="#111"/>
<circle cx="1397.1" cy="491.5" r="2.6" fill="#111"/>
<circle cx="1396.8" cy="488.1" r="2.6" fill="#111"/>
<circle cx="1396.8" cy="495.4" r="2.6" fill="#111"/>
<circle cx="1408.4" cy="496.0" r="1.7" fill="#111"/>
<circle cx="1397.4" cy="496.0" r="2.5" fill="#111"/>
<circle cx="1405.5" cy="488.6" r="1.9" fill="#111"/>
<circle cx="1410.8" cy="495.9" r="1.5" fill="#111"/>
<circle cx="1398.0" cy="499.7" r="2.5" fill="#111"/>
<circle cx="1400.5" cy="492.3" r="2.3" fill="#111"/>
<circle cx="1413.7" cy="494.3" r="1.3" fill="#111"/>
<circle cx="1397.4" cy="491.4" r="2.5" fill="#111"/>
<circle cx="1402.6" cy="490.4" r="2.1" fill="#111"/>
<circle cx="1397.8" cy="489.6" r="2.5" fill="#111"/>
<circle cx="1406.9" cy="487.7" r="1.8" fill="#111"/>
<circle cx="1403.3" cy="491.8" r="2.1" fill="#111"/>
<circle cx="1396.5" cy="489.6" r="2.6" fill="#111"/>
<circle cx="1404.7" cy="492.6" r="2.0" fill="#111"/>
<circle cx="1396.7" cy="500.7" r="2.6" fill="#111"/>
<circle cx="1327.8" cy="496.1" r="1.5" fill="#111"/>
<circle cx="1340.1" cy="488.8" r="2.1" fill="#111"/>
<circle cx="1341.3" cy="497.1" r="2.2" fill="#111"/>
<circle cx="1337.1" cy="487.4" r="2.0" fill="#111"/>
<circle cx="1334.4" cy="497.4" r="1.8" fill="#111"/>
<circle cx="1327.3" cy="490.7" r="1.5" fill="#111"/>
<rect x="1264.5" y="547.5" width="25.5" height="47.3" fill="#226832" stroke="#111" stroke-width="1.6"/>
<line x1="1276.5" y1="547.5" x2="1276.5" y2="594.8" stroke="#383838" stroke-width="2.2"/>
<line x1="1235.2" y1="563.5" x2="1235.2" y2="575.5" stroke="#000" stroke-width="4.6" stroke-linecap="round"/>
<line x1="1235.2" y1="569.5" x2="1245.2" y2="569.5" stroke="#222" stroke-width="1.2"/>
<rect x="1242.5" y="562.0" width="77.5" height="15.5" rx="10" ry="7.8" fill="#000"/>
<rect x="1241.5" y="562.0" width="14" height="15.5" rx="3.5" ry="3.5" fill="#000"/>
<circle cx="1317.1" cy="576.1" r="2.5" fill="#111"/>
<circle cx="1325.0" cy="572.0" r="2.1" fill="#111"/>
<circle cx="1316.5" cy="563.0" r="2.6" fill="#111"/>
<circle cx="1328.1" cy="569.1" r="1.9" fill="#111"/>
<circle cx="1316.3" cy="576.5" r="2.6" fill="#111"/>
<circle cx="1326.6" cy="572.9" r="2.0" fill="#111"/>
<circle cx="1316.4" cy="575.2" r="2.6" fill="#111"/>
<circle cx="1316.3" cy="575.4" r="2.6" fill="#111"/>
<circle cx="1322.2" cy="567.8" r="2.2" fill="#111"/>
<circle cx="1324.5" cy="574.6" r="2.1" fill="#111"/>
<circle cx="1318.7" cy="564.5" r="2.4" fill="#111"/>
<circle cx="1323.9" cy="566.8" r="2.1" fill="#111"/>
<circle cx="1316.6" cy="564.7" r="2.6" fill="#111"/>
<circle cx="1316.2" cy="565.2" r="2.6" fill="#111"/>
<circle cx="1319.4" cy="567.1" r="2.4" fill="#111"/>
<circle cx="1330.2" cy="568.0" r="1.8" fill="#111"/>
<circle cx="1323.3" cy="566.0" r="2.2" fill="#111"/>
<circle cx="1320.0" cy="563.3" r="2.4" fill="#111"/>
<circle cx="1318.4" cy="562.9" r="2.5" fill="#111"/>
<circle cx="1329.4" cy="570.3" r="1.8" fill="#111"/>
<circle cx="1317.5" cy="569.4" r="2.5" fill="#111"/>
<circle cx="1335.7" cy="567.5" r="1.4" fill="#111"/>
<circle cx="1332.0" cy="569.3" r="1.7" fill="#111"/>
<circle cx="1323.1" cy="573.8" r="2.2" fill="#111"/>
<circle cx="1350.0" cy="567.5" r="1.8" fill="#222"/>
<rect x="1257.8" y="595.5" width="26.0" height="47.5" fill="#AC0D0F" stroke="#111" stroke-width="1.6"/>
<line x1="1269.7" y1="595.5" x2="1269.7" y2="643.0" stroke="#383838" stroke-width="2.2"/>
<line x1="1235.2" y1="614" x2="1235.2" y2="627.5" stroke="#000" stroke-width="4.6" stroke-linecap="round"/>
<line x1="1235.2" y1="620.8" x2="1245.2" y2="620.8" stroke="#222" stroke-width="1.2"/>
<rect x="1242.5" y="613.0" width="95.5" height="16" rx="10" ry="8.0" fill="#000"/>
<rect x="1241.5" y="613.0" width="14" height="16" rx="3.5" ry="3.5" fill="#000"/>
<circle cx="1337.8" cy="621.1" r="2.3" fill="#111"/>
<circle cx="1343.3" cy="625.8" r="1.9" fill="#111"/>
<circle cx="1337.1" cy="625.6" r="2.4" fill="#111"/>
<circle cx="1343.8" cy="622.3" r="1.9" fill="#111"/>
<circle cx="1338.0" cy="619.0" r="2.3" fill="#111"/>
<circle cx="1334.2" cy="615.1" r="2.6" fill="#111"/>
<circle cx="1334.2" cy="624.8" r="2.6" fill="#111"/>
<circle cx="1335.9" cy="616.0" r="2.5" fill="#111"/>
<circle cx="1334.3" cy="626.4" r="2.6" fill="#111"/>
<circle cx="1347.6" cy="622.2" r="1.6" fill="#111"/>
<circle cx="1336.2" cy="617.3" r="2.4" fill="#111"/>
<circle cx="1336.4" cy="620.4" r="2.4" fill="#111"/>
<circle cx="1334.9" cy="620.2" r="2.5" fill="#111"/>
<circle cx="1336.0" cy="627.8" r="2.4" fill="#111"/>
<circle cx="1350.3" cy="621.2" r="1.4" fill="#111"/>
<circle cx="1335.8" cy="627.9" r="2.5" fill="#111"/>
<circle cx="1336.6" cy="619.0" r="2.4" fill="#111"/>
<circle cx="1334.0" cy="619.1" r="2.6" fill="#111"/>
<circle cx="1339.2" cy="621.0" r="2.2" fill="#111"/>
<circle cx="1335.3" cy="621.1" r="2.5" fill="#111"/>
<circle cx="1334.0" cy="617.2" r="2.6" fill="#111"/>
<circle cx="1334.4" cy="619.4" r="2.6" fill="#111"/>
<circle cx="1334.1" cy="613.4" r="2.6" fill="#111"/>
<circle cx="1336.5" cy="617.2" r="2.4" fill="#111"/>
<circle cx="1358.6" cy="619.0" r="1.8" fill="#222"/>
<circle cx="1358.6" cy="625.0" r="1.8" fill="#222"/>
<text transform="translate(1437.96 292.30) scale(0.9219 1)" font-size="22.49" fill="#000" stroke="#000" stroke-width="0.4">Group</text>
<line x1="1457.9" y1="302.5" x2="1457.9" y2="332" stroke="#222" stroke-width="1.8"/>
<rect x="1443.8" y="307.9" width="28.3" height="18.7" fill="#AC0D0F" stroke="#111" stroke-width="1.7"/>
<line x1="1443.8" y1="317.2" x2="1472.1" y2="317.2" stroke="#222" stroke-width="2"/>
<circle cx="1457.9" cy="317.2" r="2.6" fill="#111"/>
<text transform="translate(1478.55 324.20) scale(1.1020 1)" font-size="19.33" fill="#000" stroke="#000" stroke-width="0.5">N</text>
<line x1="1457.9" y1="338" x2="1457.9" y2="368.7" stroke="#222" stroke-width="1.8"/>
<rect x="1443.8" y="344" width="28.3" height="18.7" fill="#226832" stroke="#111" stroke-width="1.7"/>
<line x1="1443.8" y1="353.4" x2="1472.1" y2="353.4" stroke="#222" stroke-width="2"/>
<circle cx="1457.9" cy="353.4" r="2.6" fill="#111"/>
<text transform="translate(1479.88 360.00) scale(0.9662 1)" font-size="19.77" fill="#000" stroke="#000" stroke-width="0.5">Y</text>
<text transform="translate(3.86 825.50) scale(1.1035 1)" font-size="88.28" fill="#000" >c</text>
<line x1="246.2" y1="788" x2="246.2" y2="1653.8" stroke="#EBEBEB" stroke-width="2.8"/>
<line x1="337.6" y1="788" x2="337.6" y2="1653.8" stroke="#F1F1F1" stroke-width="2.4"/>
<line x1="429.0" y1="788" x2="429.0" y2="1653.8" stroke="#EBEBEB" stroke-width="2.8"/>
<line x1="520.4" y1="788" x2="520.4" y2="1653.8" stroke="#F1F1F1" stroke-width="2.4"/>
<line x1="611.8" y1="788" x2="611.8" y2="1653.8" stroke="#EBEBEB" stroke-width="2.8"/>
<line x1="703.2" y1="788" x2="703.2" y2="1653.8" stroke="#F1F1F1" stroke-width="2.4"/>
<line x1="794.6" y1="788" x2="794.6" y2="1653.8" stroke="#EBEBEB" stroke-width="2.8"/>
<line x1="886.0" y1="788" x2="886.0" y2="1653.8" stroke="#F1F1F1" stroke-width="2.4"/>
<line x1="977.4" y1="788" x2="977.4" y2="1653.8" stroke="#EBEBEB" stroke-width="2.8"/>
<line x1="1068.8" y1="788" x2="1068.8" y2="1653.8" stroke="#F1F1F1" stroke-width="2.4"/>
<line x1="1160.2" y1="788" x2="1160.2" y2="1653.8" stroke="#EBEBEB" stroke-width="2.8"/>
<line x1="201.1" y1="892.9" x2="1204.4" y2="892.9" stroke="#F1F1F1" stroke-width="2.4"/>
<line x1="201.1" y1="1005.2" x2="1204.4" y2="1005.2" stroke="#EBEBEB" stroke-width="2.8"/>
<line x1="201.1" y1="1117.5" x2="1204.4" y2="1117.5" stroke="#F1F1F1" stroke-width="2.4"/>
<line x1="201.1" y1="1229.7" x2="1204.4" y2="1229.7" stroke="#EBEBEB" stroke-width="2.8"/>
<line x1="201.1" y1="1342.0" x2="1204.4" y2="1342.0" stroke="#F1F1F1" stroke-width="2.4"/>
<line x1="201.1" y1="1454.2" x2="1204.4" y2="1454.2" stroke="#EBEBEB" stroke-width="2.8"/>
<line x1="201.1" y1="1566.4" x2="1204.4" y2="1566.4" stroke="#F1F1F1" stroke-width="2.4"/>
<line x1="840.7" y1="788" x2="840.7" y2="1653.8" stroke="#000" stroke-width="3.6" stroke-dasharray="20.5 16.21" stroke-linecap="round"/>
<rect x="201.1" y="788" width="1003.3" height="865.8" fill="none" stroke="#555" stroke-width="2.3"/>
<line x1="190" y1="1005.2" x2="201.1" y2="1005.2" stroke="#333" stroke-width="2.5"/>
<text transform="translate(105.40 1016.50) scale(0.9427 1)" font-size="32.51" fill="#4D4D4D" >0.031</text>
<line x1="190" y1="1229.7" x2="201.1" y2="1229.7" stroke="#333" stroke-width="2.5"/>
<text transform="translate(105.41 1241.00) scale(0.9389 1)" font-size="32.51" fill="#4D4D4D" >0.030</text>
<line x1="190" y1="1454.2" x2="201.1" y2="1454.2" stroke="#333" stroke-width="2.5"/>
<text transform="translate(105.40 1465.50) scale(0.9421 1)" font-size="32.51" fill="#4D4D4D" >0.029</text>
<line x1="246.2" y1="1653.8" x2="246.2" y2="1663.8" stroke="#333" stroke-width="2.5"/>
<text transform="translate(224.91 1694.50) scale(0.9300 1)" font-size="33.00" fill="#4D4D4D">0.5</text>
<line x1="429.0" y1="1653.8" x2="429.0" y2="1663.8" stroke="#333" stroke-width="2.5"/>
<text transform="translate(407.74 1694.50) scale(0.9300 1)" font-size="33.00" fill="#4D4D4D">0.6</text>
<line x1="611.8" y1="1653.8" x2="611.8" y2="1663.8" stroke="#333" stroke-width="2.5"/>
<text transform="translate(590.64 1694.50) scale(0.9300 1)" font-size="33.00" fill="#4D4D4D">0.7</text>
<line x1="794.6" y1="1653.8" x2="794.6" y2="1663.8" stroke="#333" stroke-width="2.5"/>
<text transform="translate(773.34 1694.50) scale(0.9300 1)" font-size="33.00" fill="#4D4D4D">0.8</text>
<line x1="977.4" y1="1653.8" x2="977.4" y2="1663.8" stroke="#333" stroke-width="2.5"/>
<text transform="translate(956.20 1694.50) scale(0.9300 1)" font-size="33.00" fill="#4D4D4D">0.9</text>
<line x1="1160.2" y1="1653.8" x2="1160.2" y2="1663.8" stroke="#333" stroke-width="2.5"/>
<text transform="translate(1138.30 1694.50) scale(0.9300 1)" font-size="33.00" fill="#4D4D4D">1.0</text>
<text transform="translate(664.03 1740.20) scale(0.9316 1)" font-size="39.38" fill="#000" >AUC</text>
<text transform="translate(88.60 1434.23) rotate(-90) scale(1.0053 1)" font-size="45.64" fill="#000">Importance score</text>
<circle cx="482" cy="826.8" r="2.9" fill="#F35B4F"/>
<text transform="translate(489.00 834.40) scale(1.0281 1)" font-size="40.30" fill="#B0B0B0" >Lead</text>
<circle cx="346.7" cy="1004.4" r="8.8" fill="#0DB8C0"/>
<text transform="translate(360.01 1004.50) scale(0.9782 1)" font-size="42.30" fill="#B0B0B0" >Manganese</text>
<circle cx="404.4" cy="1174.2" r="3.6" fill="#F35B4F"/>
<text transform="translate(409.19 1174.40) scale(1.0233 1)" font-size="40.57" fill="#B0B0B0" >Cadmium</text>
<circle cx="309.5" cy="1483" r="3.8" fill="#0DB8C0"/>
<text transform="translate(314.22 1483.20) scale(0.9639 1)" font-size="42.73" fill="#B0B0B0" >Mercury</text>
<circle cx="333" cy="1615.2" r="3.6" fill="#0DB8C0"/>
<text transform="translate(337.42 1615.00) scale(1.0252 1)" font-size="40.44" fill="#B0B0B0" >Selenium</text>
<circle cx="1289" cy="1063.4" r="3.8" fill="#F35B4F"/>
<text transform="translate(1330.22 1074.20) scale(1.0562 1)" font-size="29.53" fill="#000" >Increased</text>
<circle cx="1289" cy="1122.6" r="3.8" fill="#0DB8C0"/>
<text transform="translate(1330.56 1133.40) scale(1.0491 1)" font-size="29.53" fill="#000" >Decreased</text>
<text transform="translate(1263.73 1257.60) scale(0.9465 1)" font-size="40.12" fill="#000" >Average con.</text>
<circle cx="1284.6" cy="1302.1" r="6.1" fill="#000"/>
<text transform="translate(1330.13 1312.80) scale(1.0015 1)" font-size="31.79" fill="#000" >50</text>
<circle cx="1282.2" cy="1361.2" r="7.6" fill="#000"/>
<text transform="translate(1330.53 1372.60) scale(0.9781 1)" font-size="31.79" fill="#000" >100</text>
<circle cx="1280.5" cy="1420.2" r="8.8" fill="#000"/>
<text transform="translate(1330.53 1432.20) scale(0.9565 1)" font-size="32.51" fill="#000" >150</text>
</svg></body></html>
